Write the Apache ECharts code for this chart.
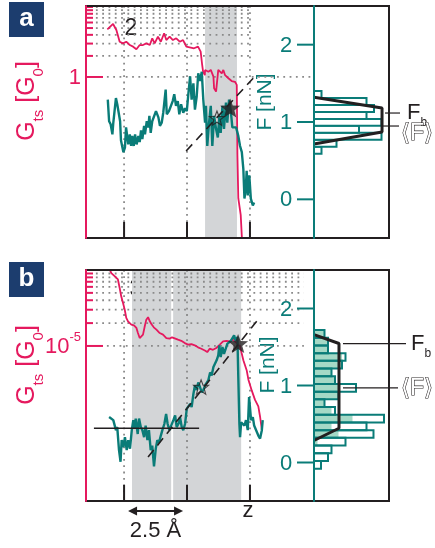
<!DOCTYPE html>
<html>
<head>
<meta charset="utf-8">
<title>Conductance and force while stretching a junction</title>
<script src="https://cdn.jsdelivr.net/npm/echarts@6.0.0/dist/echarts.min.js"></script>
<style>
html, body { margin: 0; padding: 0; background: #fff; }
#chart { width: 435px; height: 548px; }
</style>
</head>
<body>
<div id="chart"></div>
<script>
// ---------- data: z in Å, conductance G in G0, force F in nN ----------
const zTicks = [1.73, 4.59, 7.45];
const zTickLabelsB = ['', '', 'z'];
const fTicks = [0, 1, 2];

// panel a
const gMinorA = [2, 3, 4, 5, 6, 7, 8, 9, 10];
const gMajorA = [1];
const zCondA = [0.97,1.23,1.38,1.53,1.68,1.83,1.99,2.14,2.29,2.44,2.59,2.74,2.90,3.01,3.12,3.27,3.40,3.55,3.65,3.80,3.95,4.10,4.26,4.41,4.56,4.71,4.91,5.09,5.21,5.27,5.32,5.40,5.41,5.56,5.67,5.79,5.82,5.91,5.98,6.01,6.17,6.24,6.32,6.47,6.62,6.77,6.85,6.88,6.92,7.00,7.03,7.10];
const condA = [4.80,5.72,4.69,3.19,3.02,3.19,2.86,2.71,2.49,2.86,2.86,3.02,2.86,3.57,3.02,3.76,3.19,4.21,3.37,3.76,3.37,3.57,3.19,3.37,2.71,2.65,2.57,2.71,2.30,1.57,1.19,1.06,1.26,1.19,1.26,1.01,0.689,0.618,0.648,1.26,1.125,1.26,1.06,0.958,0.875,0.854,0.772,0.0769,0.0185,0.0195,0.0107,0.004];
const zForceA = [0.99,1.05,1.12,1.20,1.24,1.32,1.36,1.42,1.47,1.55,
  1.59,1.70,1.77,1.82,1.88,1.92,1.99,2.05,2.10,2.17,
  2.23,2.30,2.38,2.44,2.50,2.56,2.64,2.68,2.76,2.83,
  2.88,2.94,3.01,3.09,3.18,3.29,3.36,3.44,3.51,3.59,
  3.62,3.67,3.77,3.86,3.94,4.01,4.09,4.17,4.24,4.32,
  4.42,4.50,4.58,4.65,
  4.73,4.80,4.88,4.95,5.03,5.10,5.18,5.26,5.33,5.41,
  5.45,5.51,5.59,5.67,5.74,5.82,5.91,5.99,6.06,6.12,
  6.20,6.27,6.36,6.42,6.50,6.58,6.65,6.74,6.82,6.92,
  7.00,7.08,7.15,7.20,7.26,7.30,7.35,7.42,7.49,7.58,7.64];
const forceA = [1.29,1.01,0.97,0.84,0.99,1.01,1.31,1.23,1.25,1.01,
  0.76,0.61,0.67,0.93,0.80,0.71,0.84,0.69,0.82,0.69,
  0.84,0.71,0.82,0.74,0.89,0.78,0.95,0.84,1.01,0.93,
  1.08,0.86,1.01,0.99,1.14,1.06,0.95,0.99,1.12,1.10,
  1.42,1.10,1.14,1.14,1.27,1.36,1.21,1.27,1.10,1.23,
  1.12,1.18,1.14,1.36,
  1.59,1.29,1.50,1.16,1.33,1.63,1.53,1.65,1.29,0.99,
  1.21,0.69,0.99,1.21,0.69,1.08,0.91,0.80,1.08,0.86,
  1.21,0.91,1.25,0.99,1.29,1.14,0.93,0.95,0.93,0.82,
  0.69,0.61,0.39,0.01,0.14,0.37,0.05,0.31,0.01,-0.08,-0.04];
const bandA = [[5.41, 6.86]];
const slopeA = [[4.55, 0.625], [7.64, 1.58]];
const starFilledA = [[6.55, 1.18]];
const starOpenA = [[5.95, 1.05]];
const histStartA = 0.59, histWidthA = 0.09;
const histA = [1, 3, 9, 6, 9, 7, 8, 7, 1];
const fitA = [[0, 1.32], [9.07, 1.18], [9.07, 0.87], [0, 0.715]];
const fBreakA = 1.116, fMeanA = 0.948;

// panel b
const gMinorB = [2e-5, 3e-5, 4e-5, 5e-5, 6e-5, 7e-5, 8e-5, 9e-5, 1e-4];
const gMajorB = [1e-5];
const zCondB = [1.08,1.15,1.23,1.30,1.38,1.45,1.53,1.60,1.68,1.76,
  1.83,1.91,1.99,2.06,2.18,2.29,2.36,2.44,2.51,2.59,
  2.67,2.74,2.82,2.90,2.97,3.08,3.20,3.35,3.50,3.65,
  3.80,3.91,4.00,4.18,4.33,4.49,4.64,4.79,4.94,5.09,
  5.24,5.40,5.51,5.62,5.77,5.92,6.08,6.23,6.38,6.53,
  6.68,6.85,7.00,7.15,7.30,7.38,7.53,7.68,7.83,7.91,7.99];
const condB = [1.01e-4,9.1e-5,9.6e-5,8.3e-5,8.7e-5,7.5e-5,5.8e-5,4.5e-5,3.7e-5,3.0e-5,
  2.34e-5,2.11e-5,2.01e-5,1.91e-5,1.87e-5,1.73e-5,1.48e-5,1.27e-5,1.21e-5,1.41e-5,
  1.82e-5,2.22e-5,2.39e-5,2.11e-5,1.95e-5,1.76e-5,1.64e-5,1.48e-5,1.41e-5,1.27e-5,
  1.25e-5,1.30e-5,1.27e-5,1.21e-5,1.17e-5,1.09e-5,1.04e-5,1.06e-5,1.02e-5,9.6e-6,
  9.2e-6,8.7e-6,8.3e-6,9.2e-6,8.9e-6,9.4e-6,1.04e-5,1.15e-5,1.17e-5,1.15e-5,
  1.21e-5,1.09e-5,9.8e-6,6.5e-6,4.8e-6,3.6e-6,2.6e-6,1.95e-6,1.6e-6,1.17e-6,7.9e-7];
const zForceB = [1.05,1.14,1.24,1.32,1.36,1.42,1.50,1.57,1.62,1.70,
  1.77,1.85,1.92,2.00,2.08,2.15,2.20,2.26,2.35,2.41,
  2.49,2.56,2.64,2.71,2.79,2.86,2.94,3.01,3.09,3.17,
  3.24,3.32,3.40,3.47,3.56,3.64,3.71,3.79,3.86,3.97,
  4.05,4.12,4.23,4.27,4.35,4.42,4.50,4.58,4.65,4.73,
  4.80,4.88,4.95,5.03,5.10,5.18,5.26,5.33,5.41,5.49,
  5.56,5.64,5.71,5.79,5.86,5.94,6.01,6.06,6.12,6.20,
  6.27,6.35,6.42,6.50,6.58,6.65,6.73,6.80,6.88,6.92,
  6.97,7.00,7.05,7.12,7.20,7.27,7.35,7.41,7.45,7.50,
  7.58,7.64,7.73,7.83,7.91,7.99,8.03];
const forceB = [0.59,0.61,0.55,0.57,0.42,0.46,0.16,0.01,0.29,0.20,
  0.33,0.16,0.29,0.18,0.42,0.55,0.44,0.57,0.37,0.57,
  0.46,0.42,0.33,0.48,0.29,0.42,0.16,0.22,-0.05,0.18,
  0.29,0.26,0.35,0.42,0.50,0.63,0.50,0.42,0.44,0.55,
  0.61,0.46,0.52,0.59,0.46,0.42,0.50,0.70,0.68,0.76,
  0.72,0.89,1.00,0.94,1.04,0.98,0.91,0.94,1.00,0.98,
  1.07,1.17,1.13,1.24,1.22,1.33,1.39,1.52,1.37,1.50,
  1.41,1.48,1.54,1.56,1.58,1.56,1.65,1.58,1.63,1.11,
  0.50,0.33,0.52,0.50,0.48,0.55,0.42,0.85,0.72,0.55,
  0.59,0.48,0.46,0.35,0.31,0.42,0.55];
const bandB = [[2.09, 3.87], [3.96, 7.05]];
const slopeB = [[2.82, 0.07], [7.91, 1.89]];
const baselineB = [[0.36, 0.445], [5.14, 0.445]];
const starFilledB = [[6.91, 1.545]];
const starOpenB = [[5.23, 0.98]];
const histStartB = -0.08, histWidthB = 0.1;
const histAllB = [2, 4, 5, 9, 17, 15, 20, 6, 3, 7, 12, 6, 5, 8, 9, 4, 4, 3];
const histPreB = [0, 0, 0, 1, 7, 5, 11, 5, 3, 7, 7, 6, 5, 8, 8, 4, 4, 3];
const fitB = [[0, 1.66], [7.14, 1.545], [7.14, 0.445], [0, 0.286]];
const fBreakB = 1.545, fMeanB = 0.968;
const stepB = [[1.91, 4.41]];   // 2.5 Å scale arrow

// ---------- styling ----------
const PINK = '#e5195e', TEAL = '#0a7c78', INK = '#231f20', DOT = '#8a8a8a',
      BAND = '#d3d5d7', MINT = '#a5d9c6', NAVY = '#1c3d6e';
const FONT = '"Liberation Sans", Arial, Helvetica, sans-serif';
const Z_MAX = 10.36, F_MIN = -0.5, F_MAX = 2.5;
const STAR = 'path://M50,0L62.34,33.01L97.55,34.55L69.97,56.49L79.39,90.45L50,71L20.61,90.45L30.03,56.49L2.45,34.55L37.66,33.01Z';

const measureCtx = document.createElement('canvas').getContext('2d');
function textWidth(t, size) {
  measureCtx.font = size + 'px ' + FONT;
  return measureCtx.measureText(t).width;
}
// lay out text pieces (text, size, dy) one after another along x
function textRun(parts, color, align) {
  let x = 0;
  const out = [];
  for (const [t, size, dy] of parts) {
    out.push({ type: 'text', x: x, y: dy,
      style: { text: t, font: size + 'px ' + FONT, fill: color, align: 'left', verticalAlign: 'middle' } });
    x += textWidth(t, size);
  }
  const shift = align === 'center' ? -x / 2 : align === 'right' ? -x : 0;
  out.forEach(o => { o.x += shift; });
  return out;
}
const zip = (xs, ys) => xs.map((x, i) => [x, ys[i]]);

// ---------- series builders ----------
function bandSeries(xi, yi, bands) {
  return { type: 'custom', xAxisIndex: xi, yAxisIndex: yi, z: 1, silent: true, data: bands,
    renderItem(params, api) {
      const p0 = api.coord([api.value(0), F_MAX]);
      const p1 = api.coord([api.value(1), F_MIN]);
      return { type: 'rect', shape: { x: p0[0], y: p0[1], width: p1[0] - p0[0], height: p1[1] - p0[1] },
        style: { fill: BAND } };
    } };
}

function zTickSeries(xi, yi, labels) {
  return { type: 'custom', xAxisIndex: xi, yAxisIndex: yi, z: 1, silent: true,
    data: zTicks.map((z, i) => [z, 0, i]),
    renderItem(params, api) {
      const top = api.coord([api.value(0), F_MAX]);
      const bot = api.coord([api.value(0), F_MIN]);
      const kids = [
        { type: 'line', shape: { x1: top[0], y1: top[1], x2: bot[0], y2: bot[1] },
          style: { stroke: DOT, lineWidth: 1.8, lineDash: [1.8, 4.5] } },
        { type: 'line', shape: { x1: bot[0], y1: bot[1], x2: bot[0], y2: bot[1] - 16 },
          style: { stroke: INK, lineWidth: 2 }, z2: 10 }
      ];
      const lab = labels ? labels[api.value(2)] : '';
      if (lab) kids.push({ type: 'text', x: bot[0] - 2, y: bot[1] + 10,
        style: { text: lab, font: '22px ' + FONT, fill: INK, align: 'center', verticalAlign: 'middle' } });
      return { type: 'group', children: kids };
    } };
}

function gGridSeries(xi, yi, minor, major, zMinorEnd, zMajorEnd, label) {
  return { type: 'custom', xAxisIndex: xi, yAxisIndex: yi, z: 1, silent: true,
    data: minor.map(g => [0, g, 0]).concat(major.map(g => [0, g, 1])),
    renderItem(params, api) {
      const g = api.value(1), isMajor = api.value(2) === 1;
      const p = api.coord([0, g]);
      const x0 = api.coord([isMajor ? 0.95 : 0.45, g])[0];
      const x1 = api.coord([isMajor ? zMajorEnd : zMinorEnd, g])[0];
      const kids = [
        { type: 'line', shape: { x1: x0, y1: p[1], x2: x1, y2: p[1] },
          style: { stroke: DOT, lineWidth: 1.8, lineDash: [1.8, 4.5] } },
        { type: 'line', shape: { x1: p[0], y1: p[1], x2: p[0] + (isMajor ? 17 : 7), y2: p[1] },
          style: { stroke: PINK, lineWidth: 2 }, z2: 10 }
      ];
      if (isMajor) kids.push({ type: 'group', x: p[0] - 5, y: p[1] + 1, children: textRun(label, PINK, 'right') });
      return { type: 'group', children: kids };
    } };
}

function fTickSeries(xi, yi) {
  return { type: 'custom', xAxisIndex: xi, yAxisIndex: yi, z: 1, silent: true,
    data: fTicks.map(f => [Z_MAX, f]),
    renderItem(params, api) {
      const p = api.coord([Z_MAX, api.value(1)]);
      return { type: 'group', children: [
        { type: 'line', shape: { x1: p[0] - 17, y1: p[1], x2: p[0], y2: p[1] }, style: { stroke: TEAL, lineWidth: 2 } },
        { type: 'text', x: p[0] - 28, y: p[1] + 1,
          style: { text: String(api.value(1)), font: '22px ' + FONT, fill: TEAL, align: 'center', verticalAlign: 'middle' } }
      ] };
    } };
}

function histSeries(xi, yi, counts, start, width, style, z) {
  return { type: 'custom', xAxisIndex: xi, yAxisIndex: yi, z: z, silent: true,
    data: counts.map((c, i) => [c, start + i * width, start + (i + 1) * width]),
    renderItem(params, api) {
      const c = api.value(0);
      if (!c) return null;
      const p0 = api.coord([0, api.value(2)]);
      const p1 = api.coord([c, api.value(1)]);
      return { type: 'rect', shape: { x: p0[0], y: p0[1], width: p1[0] - p0[0], height: p1[1] - p0[1] }, style: style };
    } };
}

// callout lines from the fitted outline to the F_b and <F> labels
function calloutSeries(xi, yi, fitX, items) {
  return { type: 'custom', xAxisIndex: xi, yAxisIndex: yi, z: 5, silent: true,
    data: items.map((it, i) => [fitX, it.f, i]),
    renderItem(params, api) {
      const it = items[api.value(2)];
      const p = api.coord([fitX, api.value(1)]);
      const kids = [{ type: 'line', shape: { x1: p[0] + it.gap, y1: p[1], x2: it.lineEnd, y2: p[1] },
        style: { stroke: INK, lineWidth: 1.2 } }];
      if (it.kind === 'b') {
        kids.push({ type: 'group', x: it.textX, y: p[1] + it.dy,
          children: textRun([['F', 22, 0], ['b', 12, 10]], INK, 'left') });
      } else {
        kids.push({ type: 'text', x: it.textX, y: p[1] + it.dy,
          style: { text: '\u27E8F\u27E9', font: '23px ' + FONT, fill: '#fff', stroke: INK, lineWidth: 1.1,
            align: 'left', verticalAlign: 'middle' } });
      }
      return { type: 'group', children: kids };
    } };
}

function arrowSeries(xi, yi) {
  return { type: 'custom', xAxisIndex: xi, yAxisIndex: yi, z: 5, silent: true, data: stepB,
    renderItem(params, api) {
      const a = api.coord([api.value(0), F_MIN]);
      const b = api.coord([api.value(1), F_MIN]);
      const y = a[1] + 10;
      return { type: 'group', children: [
        { type: 'line', shape: { x1: a[0] + 4, y1: y, x2: b[0] - 4, y2: y }, style: { stroke: INK, lineWidth: 2 } },
        { type: 'polygon', shape: { points: [[a[0], y], [a[0] + 9, y - 4.5], [a[0] + 9, y + 4.5]] }, style: { fill: INK } },
        { type: 'polygon', shape: { points: [[b[0], y], [b[0] - 9, y - 4.5], [b[0] - 9, y + 4.5]] }, style: { fill: INK } },
        { type: 'text', x: (a[0] + b[0]) / 2, y: y + 20,
          style: { text: '2.5 \u00C5', font: '22px ' + FONT, fill: INK, align: 'center', verticalAlign: 'middle' } }
      ] };
    } };
}

const lineS = (xi, yi, data, color, width, extra) => Object.assign({
  type: 'line', xAxisIndex: xi, yAxisIndex: yi, data: data, symbol: 'none', showSymbol: false,
  silent: true, z: 3, lineStyle: { color: color, width: width }, clip: true
}, extra || {});

const starS = (xi, yi, data, filled, size) => ({
  type: 'scatter', xAxisIndex: xi, yAxisIndex: yi, data: data, symbol: STAR, symbolSize: size,
  symbolKeepAspect: true, silent: true, z: 6,
  itemStyle: filled ? { color: INK } : { color: 'rgba(255,255,255,0)', borderColor: INK, borderWidth: 1.1 }
});

// ---------- axes ----------
const hidden = { show: false };
const pinkAxis = (gi, min, max) => ({ gridIndex: gi, type: 'log', min: min, max: max, position: 'left', z: 6,
  axisLine: { show: true, onZero: false, lineStyle: { color: PINK, width: 2 } },
  axisTick: hidden, axisLabel: hidden, splitLine: hidden });
const tealAxis = gi => ({ gridIndex: gi, type: 'value', min: F_MIN, max: F_MAX, position: 'right', z: 6,
  axisLine: { show: true, onZero: false, lineStyle: { color: TEAL, width: 2 } },
  axisTick: hidden, axisLabel: hidden, splitLine: hidden });
const plainAxis = (gi, max) => ({ gridIndex: gi, type: 'value', min: 0, max: max, show: false });
const frame = (left, top, width, height) => ({ left, top, width, height, show: true,
  borderColor: INK, borderWidth: 2, backgroundColor: 'transparent', z: 4 });

const option = {
  animation: false,
  grid: [frame(86, 6, 228, 232), frame(314, 6, 75, 232), frame(86, 270, 228, 231), frame(314, 270, 75, 231)],
  xAxis: [plainAxis(0, Z_MAX), plainAxis(1, 10), plainAxis(2, Z_MAX), plainAxis(3, 21.43)],
  yAxis: [
    pinkAxis(0, 0.005, 10.33),                                         // 0: G, panel a
    tealAxis(0),                                                       // 1: F, panel a
    { gridIndex: 1, type: 'value', min: F_MIN, max: F_MAX, show: false }, // 2: histogram a
    pinkAxis(2, 9.1e-8, 1e-4),                                         // 3: G, panel b
    tealAxis(2),                                                       // 4: F, panel b
    { gridIndex: 3, type: 'value', min: F_MIN, max: F_MAX, show: false }  // 5: histogram b
  ],
  series: [
    // panel a
    bandSeries(0, 1, bandA),
    zTickSeries(0, 1, null),
    gGridSeries(0, 0, gMinorA, gMajorA, 7.45, 10.2, [['1', 22, 0]]),
    fTickSeries(0, 1),
    lineS(0, 0, zip(zCondA, condA), PINK, 1.8),
    lineS(0, 1, zip(zForceA, forceA), TEAL, 2.4),
    lineS(0, 1, slopeA, INK, 1.6, { z: 5, lineStyle: { color: INK, width: 1.6, type: [9, 6] } }),
    starS(0, 1, starFilledA, true, 20),
    starS(0, 1, starOpenA, false, 15),
    histSeries(1, 2, histA, histStartA, histWidthA, { fill: '#fff', stroke: TEAL, lineWidth: 2 }, 2),
    lineS(1, 2, fitA, INK, 3, { z: 4 }),
    calloutSeries(1, 2, 9.07, [
      { f: fBreakA, kind: 'b', gap: 3, lineEnd: 400, textX: 407, dy: 0 },
      { f: fMeanA, kind: 'm', gap: 0, lineEnd: 399, textX: 401, dy: 8 }
    ]),
    // panel b
    bandSeries(2, 4, bandB),
    zTickSeries(2, 4, zTickLabelsB),
    gGridSeries(2, 3, gMinorB, gMajorB, 9.9, 9.9, [['10', 22, 0], ['-5', 13, -10]]),
    fTickSeries(2, 4),
    lineS(2, 3, zip(zCondB, condB), PINK, 1.8),
    lineS(2, 4, zip(zForceB, forceB), TEAL, 2.4),
    lineS(2, 4, baselineB, INK, 1.6, { z: 5 }),
    lineS(2, 4, slopeB, INK, 1.6, { z: 5, lineStyle: { color: INK, width: 1.6, type: [9, 6] } }),
    starS(2, 4, starFilledB, true, 20),
    starS(2, 4, starOpenB, false, 15),
    arrowSeries(2, 4),
    histSeries(3, 5, histPreB, histStartB, histWidthB, { fill: MINT }, 2),
    histSeries(3, 5, histAllB, histStartB, histWidthB, { fill: 'none', stroke: TEAL, lineWidth: 2 }, 3),
    lineS(3, 5, fitB, INK, 3, { z: 4 }),
    calloutSeries(3, 5, 7.14, [
      { f: fBreakB, kind: 'b', gap: 4, lineEnd: 406, textX: 411, dy: 0 },
      { f: fMeanB, kind: 'm', gap: 4, lineEnd: 398, textX: 401, dy: 1 }
    ])
  ],
  graphic: [
    { type: 'rect', shape: { x: 9, y: 2, width: 35, height: 35 }, style: { fill: NAVY } },
    { type: 'text', x: 26.5, y: 19, style: { text: 'a', font: 'bold 26px ' + FONT, fill: '#fff', align: 'center', verticalAlign: 'middle' } },
    { type: 'rect', shape: { x: 9, y: 262, width: 35, height: 35 }, style: { fill: NAVY } },
    { type: 'text', x: 26.5, y: 279, style: { text: 'b', font: 'bold 26px ' + FONT, fill: '#fff', align: 'center', verticalAlign: 'middle' } },
    { type: 'text', x: 131, y: 29, style: { text: '2', font: '23px ' + FONT, fill: INK, align: 'center', verticalAlign: 'middle' } },
    { type: 'text', x: 136, y: 290, style: { text: '3', font: '23px ' + FONT, fill: INK, align: 'center', verticalAlign: 'middle' } },
    { type: 'group', x: 27, y: 101, rotation: Math.PI / 2,
      children: textRun([['G', 25, 0], ['ts', 15, 12], [' [G', 25, 0], ['0', 15, 12], [']', 25, 0]], PINK, 'center') },
    { type: 'group', x: 27, y: 365, rotation: Math.PI / 2,
      children: textRun([['G', 25, 0], ['ts', 15, 12], [' [G', 25, 0], ['0', 15, 12], [']', 25, 0]], PINK, 'center') },
    { type: 'group', x: 265, y: 102, rotation: Math.PI / 2,
      children: textRun([['F [nN]', 21, 0]], TEAL, 'center') },
    { type: 'group', x: 268, y: 365, rotation: Math.PI / 2,
      children: textRun([['F [nN]', 21, 0]], TEAL, 'center') }
  ]
};

const chart = echarts.init(document.getElementById('chart'), null, { renderer: 'canvas' });
chart.setOption(option);
</script>
</body>
</html>
